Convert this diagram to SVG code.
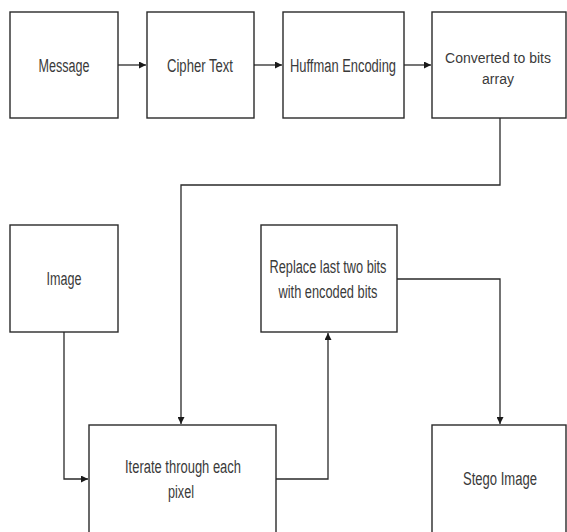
<svg xmlns="http://www.w3.org/2000/svg" width="567" height="532" viewBox="0 0 567 532">
<style>
.box{fill:#fff;stroke:#2a2a2a;stroke-width:1.4}
.t{font-family:"Liberation Sans",Arial,sans-serif;font-size:18px;fill:#3a3a3a;text-anchor:middle}
.s{font-size:14px}
.c{fill:none;stroke:#2a2a2a;stroke-width:1.3}
</style>
<defs>
<marker id="ah" viewBox="0 0 10 10" refX="10" refY="5" markerWidth="7" markerHeight="7" markerUnits="userSpaceOnUse" orient="auto">
<path d="M0,0 L10,5 L0,10 z" fill="#1a1a1a"/>
</marker>
</defs>
<rect width="567" height="532" fill="#fff"/>
<g id="connectors">
<path class="c" d="M118,65 H146" marker-end="url(#ah)"/>
<path class="c" d="M254,65 H282" marker-end="url(#ah)"/>
<path class="c" d="M404,65 H431" marker-end="url(#ah)"/>
<path class="c" d="M500,118 V185 H181 V424" marker-end="url(#ah)"/>
<path class="c" d="M64,332 V479 H88" marker-end="url(#ah)"/>
<path class="c" d="M276,479 H328 V333" marker-end="url(#ah)"/>
<path class="c" d="M397,279 H500 V424" marker-end="url(#ah)"/>
</g>
<g id="message">
<rect class="box" x="10" y="12" width="108" height="106"/>
<text class="t" x="64" y="72" textLength="51" lengthAdjust="spacingAndGlyphs">Message</text>
</g>
<g id="cipher">
<rect class="box" x="147" y="12" width="107" height="106"/>
<text class="t" x="200" y="72" textLength="66" lengthAdjust="spacingAndGlyphs">Cipher Text</text>
</g>
<g id="huffman">
<rect class="box" x="283" y="12" width="121" height="106"/>
<text class="t" x="343" y="72" textLength="106" lengthAdjust="spacingAndGlyphs">Huffman Encoding</text>
</g>
<g id="converted">
<rect class="box" x="432" y="12" width="134" height="106"/>
<text class="t s" x="498" y="63">Converted to bits</text>
<text class="t s" x="498" y="84">array</text>
</g>
<g id="image">
<rect class="box" x="10" y="225" width="108" height="107"/>
<text class="t" x="64" y="285" textLength="35" lengthAdjust="spacingAndGlyphs">Image</text>
</g>
<g id="replace">
<rect class="box" x="261" y="225" width="136" height="107"/>
<text class="t" x="328" y="273" textLength="117" lengthAdjust="spacingAndGlyphs">Replace last two bits</text>
<text class="t" x="328" y="298" textLength="99" lengthAdjust="spacingAndGlyphs">with encoded bits</text>
</g>
<g id="iterate">
<rect class="box" x="89" y="425" width="187" height="115"/>
<text class="t" x="183" y="473" textLength="116" lengthAdjust="spacingAndGlyphs">Iterate through each</text>
<text class="t" x="181" y="498" textLength="26" lengthAdjust="spacingAndGlyphs">pixel</text>
</g>
<g id="stego">
<rect class="box" x="432" y="425" width="134" height="115"/>
<text class="t" x="500" y="485" textLength="74" lengthAdjust="spacingAndGlyphs">Stego Image</text>
</g>
</svg>
